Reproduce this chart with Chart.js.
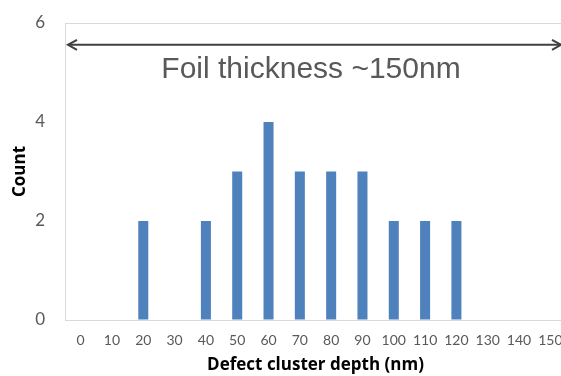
<!DOCTYPE html>
<html>
<head>
<meta charset="utf-8">
<script src="https://cdn.jsdelivr.net/npm/chart.js@4/dist/chart.umd.min.js"></script>
<style>
html,body{margin:0;padding:0;background:#fff;overflow:hidden;}
#wrap{width:561px;height:376px;position:relative;overflow:hidden;}
</style>
</head>
<body>
<div id="wrap"><canvas id="c" width="566" height="376"></canvas></div>
<script>
const categories = ["0","10","20","30","40","50","60","70","80","90","100","110","120","130","140","150"];
const counts = [0,0,2,0,2,3,4,3,3,3,2,2,2,0,0,0];
const yTicks = [0,2,4,6];
const annotationText = "Foil thickness ~150nm";
const arrowValue = 5.56;
const textValue = 5.05;

const annotationPlugin = {
  id: 'foilAnnotation',
  afterDatasetsDraw(chart) {
    const ctx = chart.ctx;
    const ys = chart.scales.y;
    const y = ys.getPixelForValue(arrowValue);
    const x1 = chart.chartArea.left + 3;
    const x2 = 561;
    ctx.save();
    ctx.strokeStyle = '#404040';
    ctx.lineWidth = 2;
    ctx.beginPath();
    ctx.moveTo(x1, y);
    ctx.lineTo(x2, y);
    ctx.stroke();
    ctx.beginPath();
    ctx.moveTo(x1 + 9, y - 5); ctx.lineTo(x1, y); ctx.lineTo(x1 + 9, y + 5);
    ctx.moveTo(x2 - 9, y - 5); ctx.lineTo(x2, y); ctx.lineTo(x2 - 9, y + 5);
    ctx.stroke();
    ctx.fillStyle = '#595959';
    ctx.font = '30px "Liberation Sans", Arial, sans-serif';
    ctx.textAlign = 'center';
    ctx.textBaseline = 'middle';
    ctx.fillText(annotationText, 311, ys.getPixelForValue(textValue));
    ctx.restore();
  }
};

new Chart(document.getElementById('c'), {
  type: 'bar',
  data: {
    labels: categories,
    datasets: [{
      data: counts,
      backgroundColor: '#4f81bd',
      borderWidth: 0,
      barPercentage: 0.32,
      categoryPercentage: 1.0
    }]
  },
  options: {
    responsive: false,
    animation: false,
    events: [],
    layout: { padding: { top: 23, right: 0, bottom: 0, left: 0 } },
    plugins: { legend: { display: false }, tooltip: { enabled: false } },
    scales: {
      x: {
        grid: { display: false, drawTicks: false },
        border: { display: false },
        ticks: { color: '#595959', font: { family: 'Lato, "Open Sans", sans-serif', size: 14 }, padding: 12, maxRotation: 0, autoSkip: false },
        title: { display: true, text: 'Defect cluster depth (nm)', color: '#000', font: { family: '"Open Sans", sans-serif', size: 17, weight: 'bold' }, padding: { top: 4, bottom: 1 } },
        afterFit(s) { s.height = 56; s.paddingLeft = 0; s.paddingRight = 0; }
      },
      y: {
        min: 0, max: 6,
        afterBuildTicks(axis) { axis.ticks = yTicks.map(v => ({ value: v })); },
        grid: {
          color: ctx => (ctx.tick && (ctx.tick.value === 0 || ctx.tick.value === 6)) ? '#d9d9d9' : 'rgba(255,255,255,0)',
          drawTicks: false
        },
        border: { display: true, color: '#d9d9d9' },
        ticks: { color: '#595959', font: { family: 'Lato, "Open Sans", sans-serif', size: 17 }, padding: 20 },
        title: { display: true, text: 'Count', color: '#000', font: { family: '"Open Sans", sans-serif', size: 17, weight: 'bold' }, padding: { top: 10, bottom: 4 } },
        afterFit(s) { s.width = 65; s.paddingTop = 0; s.paddingBottom = 0; }
      }
    }
  },
  plugins: [annotationPlugin]
});
</script>
</body>
</html>
